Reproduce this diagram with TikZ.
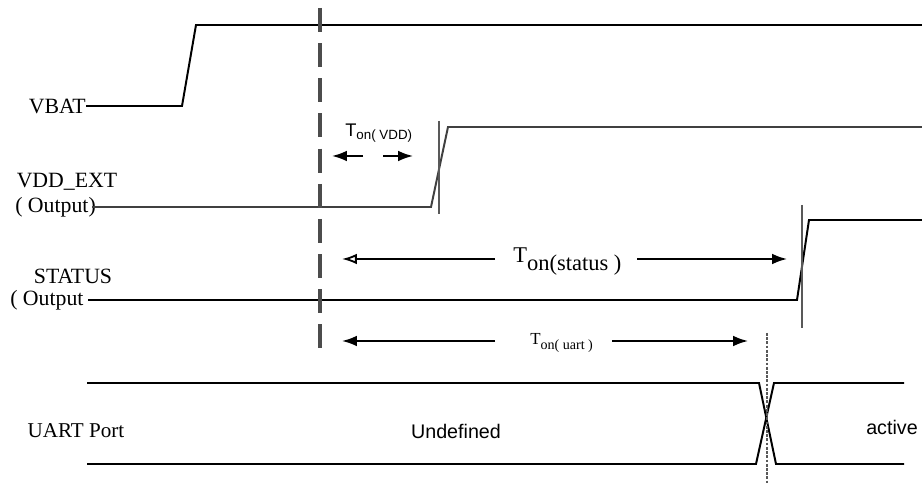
\documentclass[tikz,border=0pt]{standalone}
\usepackage{fontspec}
\setmainfont{Liberation Serif}
\newfontfamily\sansfont{Liberation Sans}
\usetikzlibrary{positioning,arrows.meta,calc}
\tikzstyle{sig} = [inner sep=0pt, font=\fontsize{15.5}{17}\selectfont]
\tikzstyle{state} = [inner sep=0pt, font=\sansfont\fontsize{14}{16}\selectfont]
\tikzstyle{wave} = [draw, line width=1.4pt]
\tikzstyle{wavegray} = [draw, line width=1.4pt, black!75]
\tikzstyle{edge} = [draw, line width=2pt, black!65]
\tikzstyle{ref} = [draw, line width=2.5pt, black!70, dash pattern=on 17pt off 8pt]
\tikzstyle{line} = [draw, line width=1.3pt, -{Latex[length=10.5pt,width=7.5pt]}]
\tikzstyle{openline} = [draw, line width=1.3pt, -{Latex[open,length=10.5pt,width=7.5pt]}]

\begin{document}
\begin{tikzpicture}[x=0.025cm,y=-0.025cm]
   \useasboundingbox (0,0) rectangle (922,484);

   % Signal names %%%%%%%%%%%%%%%%%%%%%%%%%%%%%%%%%%%%%%%%%%%%%%%%%%%%%
   \node[sig, anchor=east](vbat) at (86,106){VBAT};
   \node[sig](vddname) at (67,182){VDD\_EXT};
   \node[sig, anchor=west](vddout) at (15,207){( Output)};
   \node[sig](stsname) at (73,276){STATUS};
   \node[sig, anchor=west](stsout) at (10,300){( Output};
   \node[sig, font=\fontsize{15}{17}\selectfont](uart) at (76,431){UART Port};
   \node[state](undef) at (456,431){Undefined};
   \node[state](active) at (892,427){active};

   % Timing labels
   \node[state, anchor=base west](tvdd) at (345,137){%
      \fontsize{13}{15}\selectfont T\raisebox{-2pt}{\fontsize{9.5}{11}\selectfont on( VDD)}};
   \node[sig, anchor=base west](tsts) at (513,263){%
      \fontsize{16}{18}\selectfont T\raisebox{-5pt}{on(status )}};
   \node[sig, anchor=base west](tuart) at (530,345){%
      \fontsize{12}{14}\selectfont T\raisebox{-3pt}{\fontsize{10}{12}\selectfont on( uart )}};

   % Arrow ends
   \coordinate (vddA) at (363,156);
   \coordinate (vddL) at (332,156);
   \coordinate (vddB) at (383,156);
   \coordinate (vddR) at (413,156);
   \coordinate (stsA) at (495,259);
   \coordinate (stsL) at (342,259);
   \coordinate (stsB) at (637,259);
   \coordinate (stsR) at (787,259);
   \coordinate (uartA) at (495,341);
   \coordinate (uartL) at (342,341);
   \coordinate (uartB) at (612,341);
   \coordinate (uartR) at (748,341);

   % Waveforms %%%%%%%%%%%%%%%%%%%%%%%%%%%%%%%%%%%%%%%%%%%%%%%%%%%%%%%
   \path [wave] (vbat.east) -- (182,106) -- (196,25) -- (922,25);
   \path [wavegray] (92,207) -- (431,207) -- (448,127) -- (922,127);
   \path [wave] (88,300) -- (797,300) -- (809,220) -- (922,220);
   \path [wave] (87,383) -- (759,383) -- (776,464) -- (904,464);
   \path [wave] (87,464) -- (756,464) -- (774,383) -- (904,383);

   % Reference lines
   \path [ref] (320,8) -- (320,356);
   \path [edge] (439,121) -- (439,214);
   \path [edge] (802,205) -- (802,328);
   \path [edge, dash pattern=on 2pt off 1pt] (767,333) -- (767,484);

   % Durations
   \path [line] (vddA) -- (vddL);
   \path [line] (vddB) -- (vddR);
   \path [openline] (stsA) -- (stsL);
   \path [line] (stsB) -- (stsR);
   \path [line] (uartA) -- (uartL);
   \path [line] (uartB) -- (uartR);
\end{tikzpicture}
\end{document}
